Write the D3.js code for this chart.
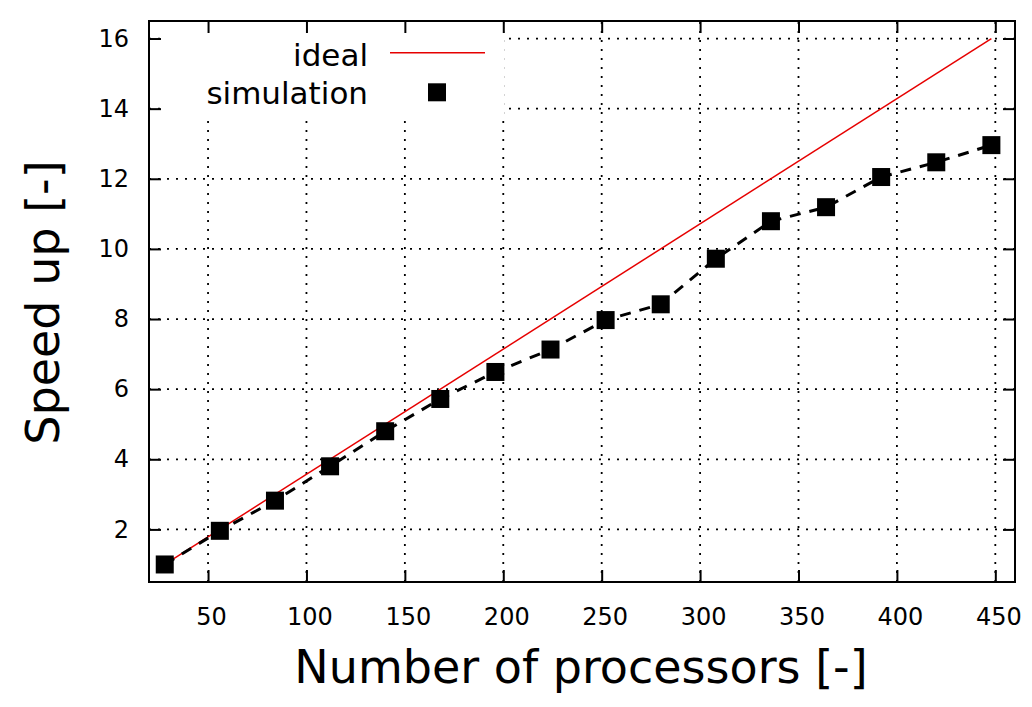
<!DOCTYPE html>
<html>
<head>
<meta charset="utf-8">
<script src="https://cdn.jsdelivr.net/npm/d3@7/dist/d3.min.js"></script>
<style>
  html, body { margin: 0; padding: 0; background: #fff; }
  svg { display: block; font-family: "DejaVu Sans", sans-serif; }
</style>
</head>
<body>
<svg id="chart" width="1032" height="707"></svg>
<script>
// ---- data ----
const processors = [28, 56, 84, 112, 140, 168, 196, 224, 252, 280, 308, 336, 364, 392, 420, 448];
const simulation = [1.0, 1.96, 2.82, 3.80, 4.80, 5.72, 6.49, 7.13, 7.97, 8.42, 9.72, 10.79, 11.19, 12.05, 12.47, 12.96];
const idealX = [28, 448];
const idealY = [1, 16];
const xTickValues = [50, 100, 150, 200, 250, 300, 350, 400, 450];
const yTickValues = [2, 4, 6, 8, 10, 12, 14, 16];
const seriesNames = ["ideal", "simulation"];
const xTitle = "Number of processors [-]";
const yTitle = "Speed up [-]";

// ---- layout ----
const L = 149, R = 1015, T = 21, B = 582;
const svg = d3.select("#chart");
const x = d3.scaleLinear().domain([20, 460]).range([L, R]);
const y = d3.scaleLinear().domain([0.5, 16.5]).range([B, T]);
const tickLen = 12;

// grid
const grid = svg.append("g").attr("stroke", "#000").attr("stroke-width", 1.8)
  .attr("stroke-dasharray", "2,7").attr("fill", "none");
xTickValues.forEach(v => {
  grid.append("line").attr("x1", x(v)).attr("x2", x(v)).attr("y1", B).attr("y2", T);
});
yTickValues.forEach(v => {
  grid.append("line").attr("x1", L).attr("x2", R).attr("y1", y(v)).attr("y2", y(v));
});

// opaque key box
svg.append("rect").attr("x", 166).attr("y", T + 1).attr("width", 504 - 166).attr("height", 114 - T - 1)
  .attr("fill", "#fff");

// ideal line
const line = d3.line().x(d => x(d[0])).y(d => y(d[1]));
svg.append("path")
  .datum(idealX.map((v, i) => [v, idealY[i]]))
  .attr("d", line).attr("fill", "none").attr("stroke", "#e60000").attr("stroke-width", 1.5);

// simulation dashed line + squares
const simData = processors.map((v, i) => [v, simulation[i]]);
svg.append("path").datum(simData).attr("d", line)
  .attr("fill", "none").attr("stroke", "#000").attr("stroke-width", 3)
  .attr("stroke-dasharray", "11,9");
const sq = 18;
svg.append("g").selectAll("rect").data(simData).join("rect")
  .attr("x", d => x(d[0]) - sq / 2).attr("y", d => y(d[1]) - sq / 2)
  .attr("width", sq).attr("height", sq).attr("fill", "#000");

// axes (ticks inward, mirrored)
function styleAxis(g) {
  g.select(".domain").remove();
  g.selectAll(".tick line").attr("stroke", "#000").attr("stroke-width", 2);
  g.selectAll(".tick text").attr("font-family", "DejaVu Sans").attr("font-size", 24).attr("fill", "#000");
}
svg.append("g").attr("transform", `translate(0,${B})`)
  .call(d3.axisBottom(x).tickValues(xTickValues).tickSize(-tickLen).tickPadding(30))
  .call(styleAxis)
  .call(g => g.selectAll(".tick text").attr("dy", 0).attr("y", 43).attr("dx", 3));
svg.append("g").attr("transform", `translate(0,${T})`)
  .call(d3.axisTop(x).tickValues(xTickValues).tickSize(-tickLen).tickFormat(""))
  .call(styleAxis);
svg.append("g").attr("transform", `translate(${L},0)`)
  .call(d3.axisLeft(y).tickValues(yTickValues).tickSize(-tickLen).tickPadding(20))
  .call(styleAxis)
  .call(g => g.selectAll(".tick text").attr("x", -20));
svg.append("g").attr("transform", `translate(${R},0)`)
  .call(d3.axisRight(y).tickValues(yTickValues).tickSize(-tickLen).tickFormat(""))
  .call(styleAxis);

// border
svg.append("rect").attr("x", L).attr("y", T).attr("width", R - L).attr("height", B - T)
  .attr("fill", "none").attr("stroke", "#000").attr("stroke-width", 2);

// legend
const leg = svg.append("g").attr("font-family", "DejaVu Sans").attr("font-size", 31).attr("fill", "#000");
leg.append("text").attr("x", 368).attr("y", 65.5).attr("text-anchor", "end").text(seriesNames[0]);
leg.append("text").attr("x", 368).attr("y", 103.5).attr("text-anchor", "end").text(seriesNames[1]);
leg.append("line").attr("x1", 390).attr("x2", 485).attr("y1", 52.7).attr("y2", 52.7)
  .attr("stroke", "#e60000").attr("stroke-width", 1.5);
leg.append("rect").attr("x", 437 - sq / 2).attr("y", 92.3 - sq / 2).attr("width", sq).attr("height", sq).attr("fill", "#000");

// axis titles
svg.append("text").attr("x", (L + R) / 2 - 1).attr("y", 683).attr("text-anchor", "middle")
  .attr("font-size", 46).attr("fill", "#000").text(xTitle);
svg.append("text").attr("transform", `translate(59,${(T + B) / 2 + 1}) rotate(-90)`).attr("text-anchor", "middle")
  .attr("font-size", 46).attr("fill", "#000").text(yTitle);
</script>
</body>
</html>
